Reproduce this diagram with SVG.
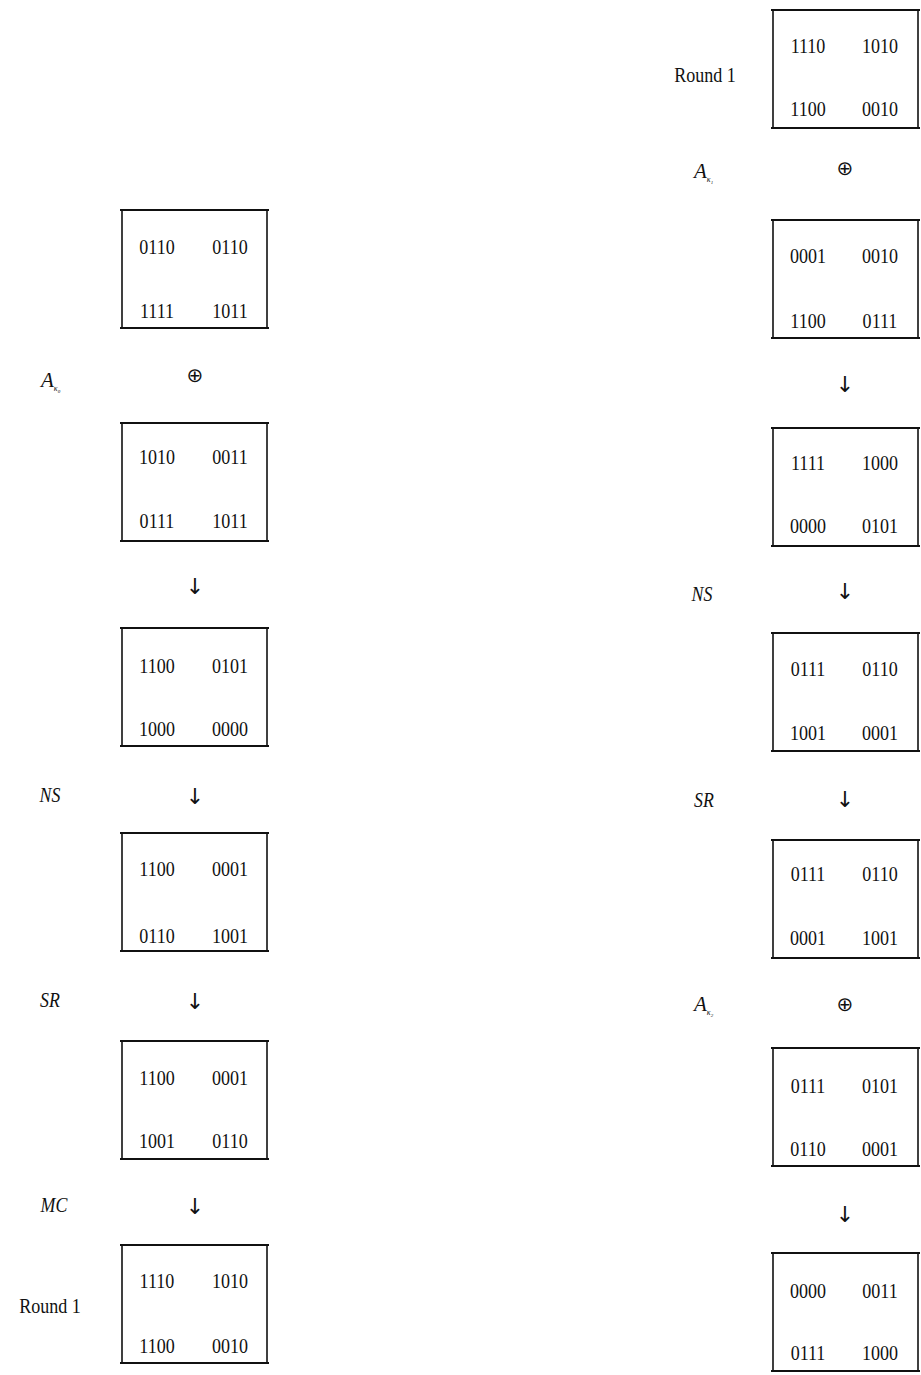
<svg xmlns="http://www.w3.org/2000/svg" width="921" height="1375" viewBox="0 0 921 1375">
<style>
.bx{fill:none;stroke:#111;stroke-width:1.6}
.hl{stroke:#111;stroke-width:2.2}
.n{font-family:"Liberation Serif",serif;font-size:22px;fill:#111;text-anchor:middle}
.lb{font-family:"Liberation Serif",serif;font-size:21px;fill:#111;font-style:italic;text-anchor:middle}
.rd{font-family:"Liberation Serif",serif;font-size:22px;fill:#111;text-anchor:middle}
.op{font-family:"DejaVu Sans",sans-serif;font-size:20px;fill:#111;text-anchor:middle}
.ar{font-family:"DejaVu Sans",sans-serif;font-size:22px;fill:#111;text-anchor:middle}
.sb{font-family:"Liberation Serif",serif;font-style:italic;fill:#111}
</style>
<defs>
<g id="frame">
<rect class="bx" x="0" y="0" width="145" height="118"/>
<line class="hl" x1="-2" y1="0" x2="147" y2="0"/>
<line class="hl" x1="-2" y1="118" x2="147" y2="118"/>
</g>
</defs>
<rect width="921" height="1375" fill="#fff"/>

<g id="L1"><use href="#frame" x="122" y="210"/>
<text class="n" x="157" y="254" transform="translate(157 0) scale(0.82 1) translate(-157 0)">0110</text><text class="n" x="230" y="254" transform="translate(230 0) scale(0.82 1) translate(-230 0)">0110</text>
<text class="n" x="157" y="318" transform="translate(157 0) scale(0.82 1) translate(-157 0)">1111</text><text class="n" x="230" y="318" transform="translate(230 0) scale(0.82 1) translate(-230 0)">1011</text></g>

<g id="L2"><use href="#frame" x="122" y="423"/>
<text class="n" x="157" y="464" transform="translate(157 0) scale(0.82 1) translate(-157 0)">1010</text><text class="n" x="230" y="464" transform="translate(230 0) scale(0.82 1) translate(-230 0)">0011</text>
<text class="n" x="157" y="528" transform="translate(157 0) scale(0.82 1) translate(-157 0)">0111</text><text class="n" x="230" y="528" transform="translate(230 0) scale(0.82 1) translate(-230 0)">1011</text></g>

<g id="L3"><use href="#frame" x="122" y="628"/>
<text class="n" x="157" y="673" transform="translate(157 0) scale(0.82 1) translate(-157 0)">1100</text><text class="n" x="230" y="673" transform="translate(230 0) scale(0.82 1) translate(-230 0)">0101</text>
<text class="n" x="157" y="736" transform="translate(157 0) scale(0.82 1) translate(-157 0)">1000</text><text class="n" x="230" y="736" transform="translate(230 0) scale(0.82 1) translate(-230 0)">0000</text></g>

<g id="L4"><use href="#frame" x="122" y="833"/>
<text class="n" x="157" y="876" transform="translate(157 0) scale(0.82 1) translate(-157 0)">1100</text><text class="n" x="230" y="876" transform="translate(230 0) scale(0.82 1) translate(-230 0)">0001</text>
<text class="n" x="157" y="943" transform="translate(157 0) scale(0.82 1) translate(-157 0)">0110</text><text class="n" x="230" y="943" transform="translate(230 0) scale(0.82 1) translate(-230 0)">1001</text></g>

<g id="L5"><use href="#frame" x="122" y="1041"/>
<text class="n" x="157" y="1085" transform="translate(157 0) scale(0.82 1) translate(-157 0)">1100</text><text class="n" x="230" y="1085" transform="translate(230 0) scale(0.82 1) translate(-230 0)">0001</text>
<text class="n" x="157" y="1148" transform="translate(157 0) scale(0.82 1) translate(-157 0)">1001</text><text class="n" x="230" y="1148" transform="translate(230 0) scale(0.82 1) translate(-230 0)">0110</text></g>

<g id="L6"><use href="#frame" x="122" y="1245"/>
<text class="n" x="157" y="1288" transform="translate(157 0) scale(0.82 1) translate(-157 0)">1110</text><text class="n" x="230" y="1288" transform="translate(230 0) scale(0.82 1) translate(-230 0)">1010</text>
<text class="n" x="157" y="1353" transform="translate(157 0) scale(0.82 1) translate(-157 0)">1100</text><text class="n" x="230" y="1353" transform="translate(230 0) scale(0.82 1) translate(-230 0)">0010</text></g>

<g id="R1"><use href="#frame" x="773" y="10"/>
<text class="n" x="808" y="53" transform="translate(808 0) scale(0.82 1) translate(-808 0)">1110</text><text class="n" x="880" y="53" transform="translate(880 0) scale(0.82 1) translate(-880 0)">1010</text>
<text class="n" x="808" y="116" transform="translate(808 0) scale(0.82 1) translate(-808 0)">1100</text><text class="n" x="880" y="116" transform="translate(880 0) scale(0.82 1) translate(-880 0)">0010</text></g>

<g id="R2"><use href="#frame" x="773" y="220"/>
<text class="n" x="808" y="263" transform="translate(808 0) scale(0.82 1) translate(-808 0)">0001</text><text class="n" x="880" y="263" transform="translate(880 0) scale(0.82 1) translate(-880 0)">0010</text>
<text class="n" x="808" y="328" transform="translate(808 0) scale(0.82 1) translate(-808 0)">1100</text><text class="n" x="880" y="328" transform="translate(880 0) scale(0.82 1) translate(-880 0)">0111</text></g>

<g id="R3"><use href="#frame" x="773" y="428"/>
<text class="n" x="808" y="470" transform="translate(808 0) scale(0.82 1) translate(-808 0)">1111</text><text class="n" x="880" y="470" transform="translate(880 0) scale(0.82 1) translate(-880 0)">1000</text>
<text class="n" x="808" y="533" transform="translate(808 0) scale(0.82 1) translate(-808 0)">0000</text><text class="n" x="880" y="533" transform="translate(880 0) scale(0.82 1) translate(-880 0)">0101</text></g>

<g id="R4"><use href="#frame" x="773" y="633"/>
<text class="n" x="808" y="676" transform="translate(808 0) scale(0.82 1) translate(-808 0)">0111</text><text class="n" x="880" y="676" transform="translate(880 0) scale(0.82 1) translate(-880 0)">0110</text>
<text class="n" x="808" y="740" transform="translate(808 0) scale(0.82 1) translate(-808 0)">1001</text><text class="n" x="880" y="740" transform="translate(880 0) scale(0.82 1) translate(-880 0)">0001</text></g>

<g id="R5"><use href="#frame" x="773" y="840"/>
<text class="n" x="808" y="881" transform="translate(808 0) scale(0.82 1) translate(-808 0)">0111</text><text class="n" x="880" y="881" transform="translate(880 0) scale(0.82 1) translate(-880 0)">0110</text>
<text class="n" x="808" y="945" transform="translate(808 0) scale(0.82 1) translate(-808 0)">0001</text><text class="n" x="880" y="945" transform="translate(880 0) scale(0.82 1) translate(-880 0)">1001</text></g>

<g id="R6"><use href="#frame" x="773" y="1048"/>
<text class="n" x="808" y="1093" transform="translate(808 0) scale(0.82 1) translate(-808 0)">0111</text><text class="n" x="880" y="1093" transform="translate(880 0) scale(0.82 1) translate(-880 0)">0101</text>
<text class="n" x="808" y="1156" transform="translate(808 0) scale(0.82 1) translate(-808 0)">0110</text><text class="n" x="880" y="1156" transform="translate(880 0) scale(0.82 1) translate(-880 0)">0001</text></g>

<g id="R7"><use href="#frame" x="773" y="1253"/>
<text class="n" x="808" y="1298" transform="translate(808 0) scale(0.82 1) translate(-808 0)">0000</text><text class="n" x="880" y="1298" transform="translate(880 0) scale(0.82 1) translate(-880 0)">0011</text>
<text class="n" x="808" y="1360" transform="translate(808 0) scale(0.82 1) translate(-808 0)">0111</text><text class="n" x="880" y="1360" transform="translate(880 0) scale(0.82 1) translate(-880 0)">1000</text></g>

<g id="connectors">
<text class="op" x="195" y="382">⊕</text>
<text class="ar" x="195" y="594">↓</text>
<text class="ar" x="195" y="804">↓</text>
<text class="ar" x="195" y="1009">↓</text>
<text class="ar" x="195" y="1214">↓</text>
<text class="op" x="845" y="175">⊕</text>
<text class="ar" x="845" y="392">↓</text>
<text class="ar" x="845" y="599">↓</text>
<text class="ar" x="845" y="807">↓</text>
<text class="op" x="845" y="1011">⊕</text>
<text class="ar" x="845" y="1222">↓</text>
</g>

<g id="labels">
<text x="41" y="387" class="sb" font-size="21">A<tspan font-size="8" dy="4">κ</tspan><tspan font-size="5" dy="2">0</tspan></text>
<text class="lb" x="50" y="802" transform="translate(50 0) scale(0.85 1) translate(-50 0)">NS</text>
<text class="lb" x="50" y="1007" transform="translate(50 0) scale(0.85 1) translate(-50 0)">SR</text>
<text class="lb" x="54" y="1212" transform="translate(54 0) scale(0.85 1) translate(-54 0)">MC</text>
<text class="rd" x="50" y="1313" transform="translate(50 0) scale(0.82 1) translate(-50 0)">Round 1</text>
<text class="rd" x="705" y="82" transform="translate(705 0) scale(0.82 1) translate(-705 0)">Round 1</text>
<text x="694" y="178" class="sb" font-size="21">A<tspan font-size="8" dy="4">κ</tspan><tspan font-size="5" dy="2">1</tspan></text>
<text class="lb" x="702" y="601" transform="translate(702 0) scale(0.85 1) translate(-702 0)">NS</text>
<text class="lb" x="704" y="807" transform="translate(704 0) scale(0.85 1) translate(-704 0)">SR</text>
<text x="694" y="1011" class="sb" font-size="21">A<tspan font-size="8" dy="4">κ</tspan><tspan font-size="5" dy="2">2</tspan></text>
</g>
</svg>
